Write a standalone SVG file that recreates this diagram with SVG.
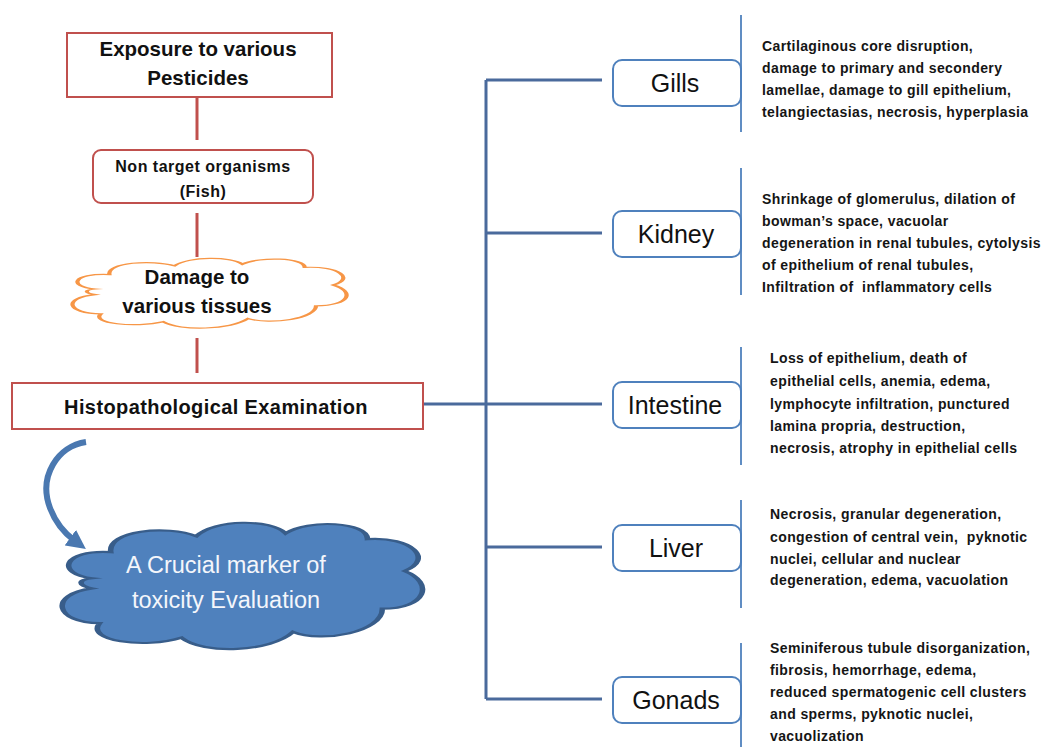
<svg xmlns="http://www.w3.org/2000/svg" width="1057" height="747" viewBox="0 0 1057 747">
<defs>
<style>
.redbox{fill:#fff;stroke:#c0504d;stroke-width:2}
.redline{stroke:#c0504d;stroke-width:3;fill:none}
.tree{stroke:#4a6a9c;stroke-width:3;fill:none}
.organ{fill:#fff;stroke:#4f81bd;stroke-width:2}
.brk{stroke:#4f81bd;stroke-width:1.8;fill:none}
.t{font-family:"Liberation Sans",Arial,sans-serif;font-weight:bold;fill:#111;text-anchor:middle}
.org{font-family:"Liberation Sans",Arial,sans-serif;font-size:25px;fill:#111;text-anchor:middle}
.d{font-family:"Liberation Sans",Arial,sans-serif;font-weight:bold;font-size:14px;letter-spacing:0.4px;fill:#151515}
</style>
<path id="cloud" d="M 10,45 C 0,42 2,25 15,27 C 14,12 30,8 38,16 C 43,4 58,4 62,14 C 68,4 84,6 84,18 C 96,16 102,32 94,40 C 102,48 100,66 88,66 C 88,82 72,90 64,82 C 58,96 40,98 34,86 C 24,94 8,88 12,76 C 0,76 -2,56 10,52 C 6,50 6,46 10,45 Z"/>
<marker id="ah" viewBox="0 0 10 10" refX="3" refY="5" markerWidth="3.2" markerHeight="3.2" orient="auto" markerUnits="strokeWidth">
<path d="M0,0 L10,5 L0,10 Z" fill="#4a78b0"/>
</marker>
</defs>

<g id="connectors">
<line class="redline" x1="197" y1="97" x2="197" y2="140"/>
<line class="redline" x1="197" y1="213" x2="197" y2="257"/>
<line class="redline" x1="197" y1="338" x2="197" y2="373"/>
<line class="tree" x1="423" y1="404" x2="602" y2="404"/>
<line class="tree" x1="486" y1="80" x2="486" y2="699"/>
<line class="tree" x1="486" y1="80" x2="602" y2="80"/>
<line class="tree" x1="486" y1="233" x2="602" y2="233"/>
<line class="tree" x1="486" y1="547" x2="602" y2="547"/>
<line class="tree" x1="486" y1="699" x2="602" y2="699"/>
<line class="brk" x1="741" y1="15" x2="741" y2="132"/>
<line class="brk" x1="741" y1="168" x2="741" y2="295"/>
<line class="brk" x1="741" y1="347" x2="741" y2="465"/>
<line class="brk" x1="741" y1="500" x2="741" y2="608"/>
<line class="brk" x1="741" y1="643" x2="741" y2="747"/>
<path d="M 86 442 C 58 446, 38 476, 50 508 C 56 524, 64 533, 75 541" fill="none" stroke="#4a78b0" stroke-width="6" marker-end="url(#ah)"/>
</g>

<g id="exposure">
<rect class="redbox" x="67" y="33" width="265" height="64"/>
<text class="t" x="198" y="56" font-size="20.5">Exposure to various</text>
<text class="t" x="198" y="85" font-size="20.5">Pesticides</text>
</g>

<g id="nontarget">
<rect class="redbox" x="93" y="150" width="220" height="53" rx="8"/>
<text class="t" x="203" y="172" font-size="16" letter-spacing="0.5">Non target organisms</text>
<text class="t" x="203" y="197" font-size="16" letter-spacing="0.5">(Fish)</text>
</g>

<g id="damage">
<use href="#cloud" transform="translate(67,253) scale(2.83,0.8)" fill="#fff" stroke="#f79646" stroke-width="1.5" style="vector-effect:non-scaling-stroke"/>
<text class="t" x="197" y="284" font-size="20.5">Damage to</text>
<text class="t" x="197" y="313" font-size="20.5">various tissues</text>
</g>

<g id="histo">
<rect class="redbox" x="12" y="383" width="411" height="46"/>
<text class="t" x="216" y="414" font-size="20" letter-spacing="0.4">Histopathological Examination</text>
</g>

<g id="marker">
<use href="#cloud" transform="translate(55,513) scale(3.72,1.45)" fill="#4f81bd" stroke="#385d8a" stroke-width="1.5" style="vector-effect:non-scaling-stroke"/>
<text x="226" y="573" font-family="Liberation Sans,Arial,sans-serif" font-size="23.5" fill="#f4f6fb" text-anchor="middle">A Crucial marker of</text>
<text x="226" y="608" font-family="Liberation Sans,Arial,sans-serif" font-size="23.5" fill="#f4f6fb" text-anchor="middle">toxicity Evaluation</text>
</g>

<g id="gills">
<rect class="organ" x="613" y="60" width="128" height="46" rx="9"/>
<text class="org" x="675" y="92">Gills</text>
<text class="d" x="762" y="51">Cartilaginous core disruption,</text>
<text class="d" x="762" y="73">damage to primary and secondery</text>
<text class="d" x="762" y="95">lamellae, damage to gill epithelium,</text>
<text class="d" x="762" y="117">telangiectasias, necrosis, hyperplasia</text>
</g>

<g id="kidney">
<rect class="organ" x="613" y="211" width="128" height="46" rx="9"/>
<text class="org" x="676" y="243">Kidney</text>
<text class="d" x="762" y="204">Shrinkage of glomerulus, dilation of</text>
<text class="d" x="762" y="226">bowman’s space, vacuolar</text>
<text class="d" x="762" y="248">degeneration in renal tubules, cytolysis</text>
<text class="d" x="762" y="270">of epithelium of renal tubules,</text>
<text class="d" x="762" y="292" xml:space="preserve">Infiltration of  inflammatory cells</text>
</g>

<g id="intestine">
<rect class="organ" x="613" y="382" width="128" height="46" rx="9"/>
<text class="org" x="675" y="414">Intestine</text>
<text class="d" x="770" y="363">Loss of epithelium, death of</text>
<text class="d" x="770" y="386">epithelial cells, anemia, edema,</text>
<text class="d" x="770" y="409">lymphocyte infiltration, punctured</text>
<text class="d" x="770" y="431">lamina propria, destruction,</text>
<text class="d" x="770" y="453">necrosis, atrophy in epithelial cells</text>
</g>

<g id="liver">
<rect class="organ" x="613" y="525" width="128" height="46" rx="9"/>
<text class="org" x="676" y="557">Liver</text>
<text class="d" x="770" y="519">Necrosis, granular degeneration,</text>
<text class="d" x="770" y="542" xml:space="preserve">congestion of central vein,  pyknotic</text>
<text class="d" x="770" y="564">nuclei, cellular and nuclear</text>
<text class="d" x="770" y="585">degeneration, edema, vacuolation</text>
</g>

<g id="gonads">
<rect class="organ" x="613" y="677" width="128" height="46" rx="9"/>
<text class="org" x="676" y="709">Gonads</text>
<text class="d" x="770" y="653">Seminiferous tubule disorganization,</text>
<text class="d" x="770" y="675">fibrosis, hemorrhage, edema,</text>
<text class="d" x="770" y="697">reduced spermatogenic cell clusters</text>
<text class="d" x="770" y="719">and sperms, pyknotic nuclei,</text>
<text class="d" x="770" y="741">vacuolization</text>
</g>
</svg>
